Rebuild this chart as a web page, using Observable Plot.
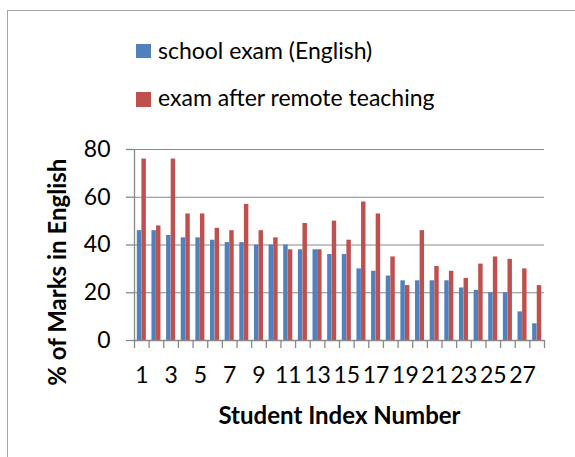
<!DOCTYPE html>
<html>
<head>
<meta charset="utf-8">
<script src="https://cdn.jsdelivr.net/npm/d3@7"></script>
<script src="https://cdn.jsdelivr.net/npm/@observablehq/plot@0.6"></script>
<style>
  html, body { margin: 0; padding: 0; background: #fff; }
  #wrap { position: relative; width: 575px; height: 457px; overflow: hidden; font-family: Lato, "Open Sans", sans-serif; color: #000; }
  #border { position: absolute; left: 7px; top: 10px; width: 620px; height: 520px; border: 1.3px solid #a6a6a6; pointer-events: none; }
  #legend { position: relative; height: 120px; }
  .sw { position: absolute; left: 136px; width: 14.5px; height: 14.5px; }
  .lt { position: absolute; left: 158px; font-size: 23px; line-height: 23px; white-space: nowrap; }
  svg { display: block; }
</style>
</head>
<body>
<div id="wrap">
  <div id="legend"></div>
  <div id="chart"></div>
  <div id="border"></div>
</div>
<script>
const students = [1,2,3,4,5,6,7,8,9,10,11,12,13,14,15,16,17,18,19,20,21,22,23,24,25,26,27,28];
const schoolExam = [46,46,44,43,43,42,41,41,40,40,40,38,38,36,36,30,29,27,25,25,25,25,22,21,20,20,12,7];
const remoteExam = [76,48,76,53,53,47,46,57,46,43,38,49,38,50,42,58,53,35,23,46,31,29,26,32,35,34,30,23];
const seriesNames = ["school exam (English)", "exam after remote teaching"];
const seriesColors = ["#4F81BD", "#C0504D"];
const xTickLabels = [1,3,5,7,9,11,13,15,17,19,21,23,25,27];
const yTicks = [0,20,40,60,80];
const xTitle = "Student Index Number";
const yTitle = "% of Marks in English";

const rows = students.map((s, i) => ({student: s, school: schoolExam[i], remote: remoteExam[i]}));

// legend
const legend = document.getElementById("legend");
const legTops = [{sw: 43.5, txt: 39}, {sw: 92, txt: 85.6}];
seriesNames.forEach((name, i) => {
  const sw = document.createElement("div");
  sw.className = "sw";
  sw.style.top = legTops[i].sw + "px";
  sw.style.background = seriesColors[i];
  legend.appendChild(sw);
  const t = document.createElement("div");
  t.className = "lt";
  t.style.top = legTops[i].txt + "px";
  t.textContent = name;
  legend.appendChild(t);
});

const boundaries = d3.range(students.length + 1).map(i => students[0] - 0.5 + i);
const axisColor = "#898989";

const chart = Plot.plot({
  width: 575,
  height: 337,
  marginTop: 29,
  marginBottom: 117,
  marginLeft: 134,
  marginRight: 31,
  style: {fontFamily: "Lato, 'Open Sans', sans-serif", color: "#000", background: "transparent"},
  x: {type: "linear", domain: [0.5, 28.5], axis: null},
  y: {domain: [0, 80], axis: null},
  marks: [
    Plot.ruleY(yTicks.filter(d => d > 0), {stroke: axisColor, strokeWidth: 1.2}),
    Plot.rectY(rows, {x1: d => d.student - 0.5, x2: d => d.student + 0.5, y: "school", fill: seriesColors[0], insetLeft: 2.8, insetRight: 7.4}),
    Plot.rectY(rows, {x1: d => d.student - 0.5, x2: d => d.student + 0.5, y: "remote", fill: seriesColors[1], insetLeft: 7.4, insetRight: 2.8}),
    Plot.ruleX([0.5], {y1: 0, y2: 80, stroke: axisColor, strokeWidth: 1.3}),
    Plot.ruleY([0], {stroke: axisColor, strokeWidth: 1.3}),
    Plot.axisY(yTicks, {tickSize: 8, tickPadding: 16, fontSize: 23, stroke: axisColor, strokeWidth: 1.3, label: null}),
    Plot.axisX(boundaries, {tickSize: 8, tickFormat: () => "", stroke: axisColor, strokeWidth: 1.3, label: null}),
    Plot.text(xTickLabels, {x: d => d, y: 0, dy: 35.5, lineAnchor: "middle", fontSize: 23, fill: "#000"}),
    Plot.text([xTitle], {frameAnchor: "bottom", dy: 83.3, lineAnchor: "bottom", fontSize: 24, fontWeight: "bold", fill: "#000"}),
    Plot.text([yTitle], {frameAnchor: "left", dx: -69, dy: 27.2, rotate: -90, lineAnchor: "bottom", textAnchor: "middle", fontSize: 24, fontWeight: "bold", fill: "#000"})
  ]
});
document.getElementById("chart").appendChild(chart);
</script>
</body>
</html>
